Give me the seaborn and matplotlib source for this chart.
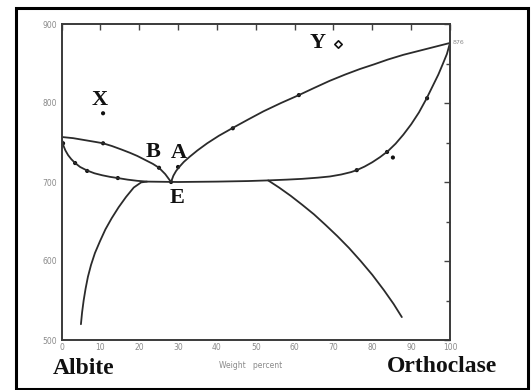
import matplotlib
matplotlib.use("Agg")
import matplotlib.pyplot as plt
import seaborn as sns
import pandas as pd
from matplotlib.patches import Rectangle

# ---- data (weight percent orthoclase, temperature) ----
liq_left_x = [0, 3, 6, 9, 10.7, 13, 15.5, 17.6, 19.5, 21.5, 23.5, 25.1, 26.7, 28.2]
liq_left_t = [757, 755.5, 753, 750.5, 749, 745.5, 741, 737, 733, 728, 723, 718, 710, 700]

liq_right_x = [28.2, 28.8, 29.5, 30.3, 31.5, 33, 35, 37.5, 40.5, 44.1, 48, 52, 56.5,
               61.1, 65, 69, 73, 76.8, 80.5, 84, 88, 92, 96, 100]
liq_right_t = [700, 708, 714, 719, 725.5, 732, 740, 749, 758.5, 768.5, 779, 789.5, 800,
               810, 819, 828, 836, 843, 849, 855, 861, 866, 871, 876]

sol_x = [0, 0.2, 0.5, 1.0, 1.7, 2.5, 3.5, 4.8, 6.6, 8.5, 10.5, 12.5, 14.5, 17, 19.5,
         22, 30, 40, 48, 53, 58, 62, 66, 69.1, 72, 74.5, 76, 78, 80, 82, 84,
         86, 88, 90, 92, 94, 95.5, 97, 98.2, 99.2, 100]
sol_t = [757, 752, 746, 740, 734, 729, 724, 719, 714.5, 711, 708.5, 706.5, 705, 703, 701.5,
         700.5, 700, 700.5, 701.2, 702, 703, 704, 705.5, 707, 709.5, 712.5, 715, 719.5, 725,
         731.5, 739, 748.5, 760, 773, 788, 806, 821, 836, 850, 862, 876]

solvus_left_x = [5.0, 5.3, 5.7, 6.2, 6.8, 7.6, 8.6, 9.9, 11.3, 12.9, 14.7, 16.6, 18.6, 20.5, 22]
solvus_left_t = [520, 535, 550, 565, 580, 595, 610, 625, 640, 654, 668, 681, 693, 699.5, 700.5]

solvus_right_x = [53.2, 56, 59, 62, 65, 68, 71, 74, 77, 80, 83, 85.5, 87.6]
solvus_right_t = [702, 693, 682.5, 671, 659, 645.5, 631.5, 616.5, 600, 582.5, 563, 545.5, 529]

dots_x = [10.7, 25.1, 30, 44.1, 61.1, 0.4, 3.5, 6.6, 14.5, 76, 83.8, 94.1, 28.2, 85.3, 10.7]
dots_t = [749, 718, 719, 768, 810, 749, 724, 714, 705, 715, 738, 806, 700, 731, 787]

y_point = (71.2, 875)

x_ticks = list(range(0, 101, 10))
y_ticks = [500, 600, 700, 800, 900]
y_minor = [550, 650, 750, 850]

point_labels = ["X", "Y", "B", "A", "E"]
point_label_x = [9.9, 65.8, 23.6, 30.2, 29.7]
point_label_t = [804, 876, 738, 737, 680]

# ---- build long table ----
frames = []
for name, xs, ts in [("liq_left", liq_left_x, liq_left_t),
                     ("liq_right", liq_right_x, liq_right_t),
                     ("solidus", sol_x, sol_t),
                     ("solvus_left", solvus_left_x, solvus_left_t),
                     ("solvus_right", solvus_right_x, solvus_right_t)]:
    frames.append(pd.DataFrame({"curve": name, "x": xs, "t": ts}))
curves = pd.concat(frames, ignore_index=True)
dots = pd.DataFrame({"x": dots_x, "t": dots_t})

sns.set_theme(style="white")
plt.rcParams["font.family"] = ["DejaVu Sans"]

fig = plt.figure(figsize=(5.32, 3.90), dpi=100)
ax = fig.add_axes([61.5 / 532, 1 - 340 / 390, (450 - 61.5) / 532, (340 - 24) / 390])

line_col = "#2b2b2b"
for name, sub in curves.groupby("curve", sort=False):
    sns.lineplot(data=sub, x="x", y="t", sort=False, estimator=None,
                 color=line_col, lw=1.3, ax=ax, legend=False)

sns.scatterplot(data=dots, x="x", y="t", s=9, color="#111111",
                edgecolor="none", ax=ax, legend=False)
ax.scatter([y_point[0]], [y_point[1]], marker="D", s=14, facecolor="white",
           edgecolor="#111111", linewidths=1.2, zorder=5)

ax.set_xlim(0, 100)
ax.set_ylim(500, 900)
ax.set_xticks(x_ticks)
ax.set_xticklabels([str(v) for v in x_ticks])
ax.set_yticks(y_ticks)
ax.set_yticklabels([str(v) for v in y_ticks])
ax.set_yticks(y_minor, minor=True)
ax.set_xlabel("")
ax.set_ylabel("")
ax.tick_params(axis="both", which="both", direction="in", top=True, right=True,
               color="#444444", labelcolor="#8a8a8a", labelsize=5.5)
ax.tick_params(axis="both", which="major", length=4, width=1.0)
ax.tick_params(axis="y", which="minor", length=3, width=1.0)
ax.tick_params(axis="y", which="major", pad=3)
ax.tick_params(axis="x", which="major", pad=2)
for sp in ax.spines.values():
    sp.set_color("#3a3a3a")
    sp.set_linewidth(1.4)
    sp.set_visible(True)
ax.set_facecolor("white")

serif = ["Liberation Serif", "DejaVu Serif"]
for lab, lx, lt in zip(point_labels, point_label_x, point_label_t):
    ax.text(lx, lt, lab, family=serif, fontweight="bold", fontsize=16,
            ha="center", va="center", color="#111111")

ax.text(100.6, 876, "876", fontsize=4.5, color="#8a8a8a", ha="left", va="center")

fig.text(0.472, 0.064, "Weight   percent", fontsize=5.5, color="#8a8a8a",
         ha="center", va="center")
fig.text(84 / 532, 1 - 369 / 390, "Albite", family=serif, fontweight="bold",
         fontsize=17, ha="center", va="center", color="#111111")
fig.text(442.5 / 532, 1 - 367 / 390, "Orthoclase", family=serif, fontweight="bold",
         fontsize=17, ha="center", va="center", color="#111111")

fig.patches.append(Rectangle((16 / 532, 1 / 390), (528 - 16) / 532, 381 / 390,
                             transform=fig.transFigure, fill=False,
                             edgecolor="black", linewidth=2.2))

fig.savefig("out.png", dpi=100, facecolor="white")
